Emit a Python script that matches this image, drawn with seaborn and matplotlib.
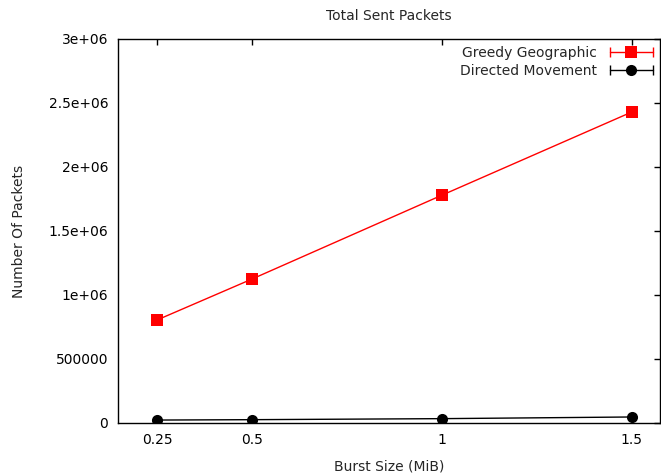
import matplotlib
matplotlib.use("Agg")
import matplotlib.pyplot as plt
import seaborn as sns
import pandas as pd
from matplotlib.lines import Line2D
from matplotlib.legend_handler import HandlerLine2D, HandlerTuple

burst = [0.25, 0.5, 1, 1.5]
greedy = [805000, 1125000, 1780000, 2430000]
directed = [23000, 26000, 34000, 47000]
xticks = [0.25, 0.5, 1, 1.5]
xticklabels = ["0.25", "0.5", "1", "1.5"]
yticks = [0, 500000, 1000000, 1500000, 2000000, 2500000, 3000000]
yticklabels = ["0", "500000", "1e+06", "1.5e+06", "2e+06", "2.5e+06", "3e+06"]

sns.set_theme(style="white")
plt.rcParams['font.family'] = ['DejaVu Sans']

df = pd.DataFrame({
    "burst": burst * 2,
    "packets": greedy + directed,
    "series": ["Greedy Geographic"] * 4 + ["Directed Movement"] * 4,
})

fig = plt.figure(figsize=(6.61, 4.76), dpi=100)
ax = fig.add_axes([118 / 661, 1 - 423 / 476, (660 - 118) / 661, (423 - 39) / 476])

palette = {"Greedy Geographic": "#ff0000", "Directed Movement": "#000000"}
markers = {"Greedy Geographic": "s", "Directed Movement": "o"}
sns.lineplot(data=df, x="burst", y="packets", hue="series", style="series",
             palette=palette, markers=markers, dashes=False, markersize=8,
             markeredgewidth=0, linewidth=1, ax=ax, legend=False, zorder=3)

ax.set_xlim(0.147, 1.574)
ax.set_ylim(0, 3000000)
ax.set_xticks(xticks)
ax.set_xticklabels(xticklabels)
ax.set_yticks(yticks)
ax.set_yticklabels(yticklabels)
ax.tick_params(direction="in", length=4.5, width=1, top=True, right=True,
               labelsize=10, colors="black", pad=7)
for s in ax.spines.values():
    s.set_color("black")
    s.set_linewidth(1)

ax.set_xlabel("Burst Size (MiB)", fontsize=10, labelpad=9)
ax.set_ylabel("Number Of Packets", fontsize=10, labelpad=16)
ax.set_title("Total Sent Packets", fontsize=10, pad=14)

handles = []
hmap = {}
for name in ["Greedy Geographic", "Directed Movement"]:
    c = palette[name]
    caps = Line2D([], [], color=c, marker="|", markersize=7, markeredgewidth=1, linewidth=1)
    main = Line2D([], [], color=c, marker=markers[name], markersize=8,
                  markeredgewidth=0, linewidth=0)
    hmap[caps] = HandlerLine2D(numpoints=2)
    hmap[main] = HandlerLine2D(numpoints=1)
    handles.append((caps, main))
leg = ax.legend(handles, ["Greedy Geographic", "Directed Movement"],
                handler_map={tuple: HandlerTuple(ndivide=1, pad=0), **hmap},
                loc="upper right", frameon=False, markerfirst=False,
                fontsize=10, handlelength=3.7, handletextpad=0.6,
                labelspacing=0.3, borderaxespad=0.3, bbox_to_anchor=(1.012, 1.007))

fig.savefig("out.png", dpi=100)
